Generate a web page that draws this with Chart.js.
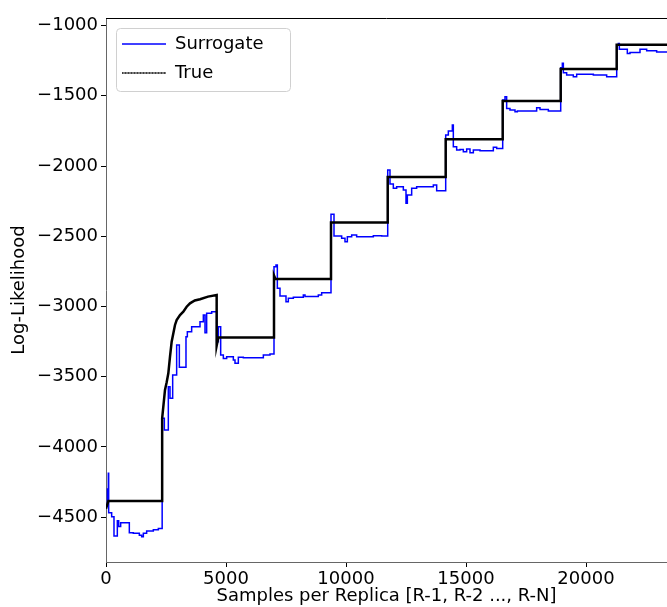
<!DOCTYPE html>
<html>
<head>
<meta charset="utf-8">
<script src="https://cdn.jsdelivr.net/npm/chart.js@4"></script>
<style>
  html, body { margin: 0; padding: 0; background: #fff; }
  #wrap { width: 667px; height: 607px; }
</style>
</head>
<body>
<div id="wrap"><canvas id="llChart" width="667" height="607"></canvas></div>
<script>
// values
const surrX = [0, 60, 97, 111, 236, 333, 472, 528, 611, 972, 1139, 1389, 1486, 1556, 1694, 1972, 2181,
  2340, 2431, 2597, 2667, 2778, 2944, 3056, 3333, 3389, 3569, 3917, 4056, 4125, 4194, 4403,
  4611, 4681, 4778, 4889, 5028, 5306, 5375, 5514, 5722, 6556, 6833,
  7000, 7083, 7139, 7250, 7500, 7597, 7806, 8222, 8292, 8847, 8986,
  9375, 9500, 9819, 9958, 10056, 10236, 10444, 11139, 11486,
  11738, 11833, 11972, 12111, 12389, 12500, 12556, 12736, 12944, 13639, 13778,
  14154, 14264, 14431, 14472, 14611, 14750, 14889, 15028, 15167, 15306, 15583, 16139, 16278,
  16529, 16625, 16694, 16833, 17042, 17139, 17944, 18083, 18431,
  18946, 19014, 19056, 19194, 19472, 19611, 20306, 20861,
  21279, 21347, 21389, 21722, 21833, 22250, 22528, 22944, 23400];
const surrY = [-4420, -4300, -4188, -4469, -4497, -4635, -4527, -4568, -4540, -4611, -4616, -4630, -4640, -4616, -4599, -4590, -4582,
  -3797, -3880, -3572, -3654, -3488, -3275, -3434, -3216, -3180, -3145, -3109, -3061, -3187, -3049, -3037,
  -3251, -3145, -3346, -3370, -3358, -3382, -3405, -3362, -3365, -3346, -3339,
  -2717, -2705, -2871, -2926, -2967, -2942, -2935, -2919, -2930, -2919, -2902,
  -2344, -2499, -2515, -2539, -2504, -2492, -2504, -2496, -2499,
  -2029, -2129, -2159, -2147, -2171, -2266, -2207, -2159, -2147, -2136, -2176,
  -1780, -1750, -1708, -1863, -1886, -1882, -1898, -1879, -1905, -1886, -1891, -1867, -1876,
  -1530, -1507, -1590, -1602, -1614, -1609, -1585, -1597, -1609,
  -1300, -1269, -1336, -1352, -1364, -1347, -1352, -1364,
  -1140, -1127, -1169, -1198, -1191, -1169, -1179, -1189, -1189];

const trueX = [0, 100, 2340, 2340, 2458, 2528, 2597, 2667, 2736, 2875, 2944, 3083, 3222, 3361, 3500, 3700, 3917, 4250,
  4611, 4611, 4680, 7000, 7000, 7060, 9375, 9375, 11738, 11738, 14154, 14154, 16529, 16529, 18946, 18946, 21279, 21279, 23400];
const trueY = [-4440, -4385, -4385, -3797, -3595, -3540, -3476, -3358, -3251, -3132, -3097, -3061, -3038, -3002, -2978, -2958, -2949, -2930,
  -2919, -3280, -3222, -3222, -2780, -2805, -2805, -2402, -2402, -2079, -2079, -1809, -1809, -1537, -1537, -1309, -1309, -1136, -1136];

const xTicks = [0, 5000, 10000, 15000, 20000];
const yTicks = [-4500, -4000, -3500, -3000, -2500, -2000, -1500, -1000];
const seriesLabels = ["Surrogate", "True"];

function toPoints(xs, ys) {
  return xs.map((x, i) => ({ x, y: ys[i] }));
}

function minusSign(v) {
  return String(v).replace("-", "\u2212");
}

const FONT = { family: "'DejaVu Sans', sans-serif", size: 18 };

// top spine + legend frame, legend nudged into the plot corner
const framePlugin = {
  id: "frame",
  afterLayout(chart) {
    const a = chart.chartArea;
    chart.legend.left = a.left + 5;
    chart.legend.top = a.top + 6;
  },
  afterDraw(chart) {
    const { ctx, chartArea: a } = chart;
    const lg = chart.legend;
    ctx.save();
    ctx.strokeStyle = "#000";
    ctx.lineWidth = 1;
    ctx.beginPath();
    ctx.moveTo(a.left, a.top + 0.5);
    ctx.lineTo(a.right, a.top + 0.5);
    ctx.stroke();
    ctx.strokeStyle = "#d0d0d0";
    ctx.beginPath();
    ctx.roundRect(lg.left + 5.5, lg.top + 4.5, 174, 63, 4);
    ctx.stroke();
    ctx.restore();
  }
};

new Chart(document.getElementById("llChart"), {
  type: "line",
  data: {
    datasets: [
      {
        label: seriesLabels[0],
        data: toPoints(surrX, surrY),
        borderColor: "#0000ff",
        backgroundColor: "#0000ff",
        borderWidth: 1.5,
        pointRadius: 0,
        stepped: "before",
        fill: false,
        order: 1
      },
      {
        label: seriesLabels[1],
        data: toPoints(trueX, trueY),
        borderColor: "#000000",
        backgroundColor: "#000000",
        borderWidth: 2.5,
        pointRadius: 0,
        tension: 0,
        fill: false,
        order: 0
      }
    ]
  },
  options: {
    responsive: false,
    devicePixelRatio: 1,
    animation: false,
    layout: { padding: { top: 18, right: 0, bottom: 0, left: 0 } },
    plugins: {
      tooltip: { enabled: false },
      legend: {
        position: "chartArea",
        align: "start",
        labels: {
          font: FONT,
          color: "#000",
          boxWidth: 44,
          boxHeight: 0,
          padding: 11,
          sort: (a, b) => a.datasetIndex - b.datasetIndex,
          generateLabels(chart) {
            const items = Chart.defaults.plugins.legend.labels.generateLabels(chart);
            items.forEach(it => {
              it.lineWidth = 1;
              it.fillStyle = "rgba(0,0,0,0)";
              it.lineDash = it.datasetIndex === 1 ? [2, 1] : [];
            });
            return items;
          }
        }
      }
    },
    scales: {
      x: {
        type: "linear",
        min: 0,
        max: 23375,
        afterBuildTicks: s => { s.ticks = xTicks.map(v => ({ value: v })); },
        afterFit: s => { s.height = 45; },
        ticks: { font: FONT, color: "#000", padding: 2, maxRotation: 0, callback: v => String(v) },
        grid: { drawOnChartArea: false, drawTicks: true, tickLength: 5, tickColor: "#000" },
        border: { color: "#666", width: 1 },
        title: {
          display: true,
          text: "Samples per Replica [R-1, R-2 ..., R-N]",
          font: FONT,
          color: "#000",
          padding: { top: 0, bottom: 0 }
        }
      },
      y: {
        min: -4820,
        max: -946,
        afterBuildTicks: s => { s.ticks = yTicks.map(v => ({ value: v })); },
        afterFit: s => { s.width = 106; },
        ticks: { font: FONT, color: "#000", padding: 3, callback: minusSign },
        grid: { drawOnChartArea: false, drawTicks: true, tickLength: 5, tickColor: "#000" },
        border: { color: "#666", width: 1 },
        title: {
          display: true,
          text: "Log-Likelihood",
          font: FONT,
          color: "#000",
          padding: { top: 9, bottom: 0 }
        }
      }
    }
  },
  plugins: [framePlugin]
});
</script>
</body>
</html>
